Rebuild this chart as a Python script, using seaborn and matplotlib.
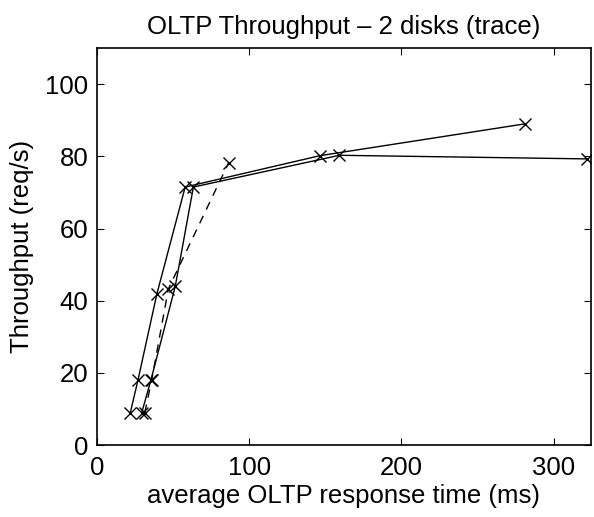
import matplotlib
matplotlib.use("Agg")
import matplotlib.pyplot as plt
import seaborn as sns
import pandas as pd

# Data
run_a_x = [22, 27, 39.5, 58, 146.6, 281]
run_a_y = [9, 18, 42, 71.5, 80.2, 89]
run_b_x = [29.5, 35.5, 51.5, 63.4, 159.3, 321.7]
run_b_y = [9, 18, 44, 71.5, 80.3, 79.3]
run_c_x = [31.5, 36, 47, 86.5]
run_c_y = [9, 18, 43.3, 78.2]

title = "OLTP Throughput \u2013 2 disks (trace)"
xlabel = "average OLTP response time (ms)"
ylabel = "Throughput (req/s)"
xticks = [0, 100, 200, 300]
yticks = [0, 20, 40, 60, 80, 100]

sns.set_style("ticks")
plt.rcParams["font.family"] = ["Liberation Sans", "DejaVu Sans"]
plt.rcParams["text.color"] = "black"
plt.rcParams["axes.labelcolor"] = "black"

fig = plt.figure(figsize=(5.94, 5.17), dpi=100)
ax = fig.add_axes([0.163, 0.139, 0.832, 0.768])

series = [
    (run_a_x, run_a_y, "-"),
    (run_b_x, run_b_y, "-"),
    (run_c_x, run_c_y, (0, (6, 5))),
]
for xs, ys, ls in series:
    df = pd.DataFrame({"x": xs, "y": ys})
    sns.lineplot(data=df, x="x", y="y", sort=False, ax=ax, color="black",
                 linewidth=1.0, linestyle=ls, marker="x", markersize=9,
                 markeredgewidth=1.0, markeredgecolor="black")

fs = 18.5
ax.set_xlim(0, 324.5)
ax.set_ylim(0, 110)
ax.set_xticks(xticks)
ax.set_yticks(yticks)
ax.tick_params(direction="in", top=True, right=True, length=5, width=0.8,
               labelsize=fs, colors="black")
ax.tick_params(axis="x", pad=8)
ax.tick_params(axis="y", pad=6)
for s in ax.spines.values():
    s.set_visible(True)
    s.set_linewidth(1.2)
    s.set_color("black")
ax.set_title(title, fontsize=fs, pad=10, color="black")
ax.set_xlabel(xlabel, fontsize=fs, labelpad=3, color="black")
ax.set_ylabel(ylabel, fontsize=fs, labelpad=8, color="black")

fig.savefig("out.png", dpi=100)
